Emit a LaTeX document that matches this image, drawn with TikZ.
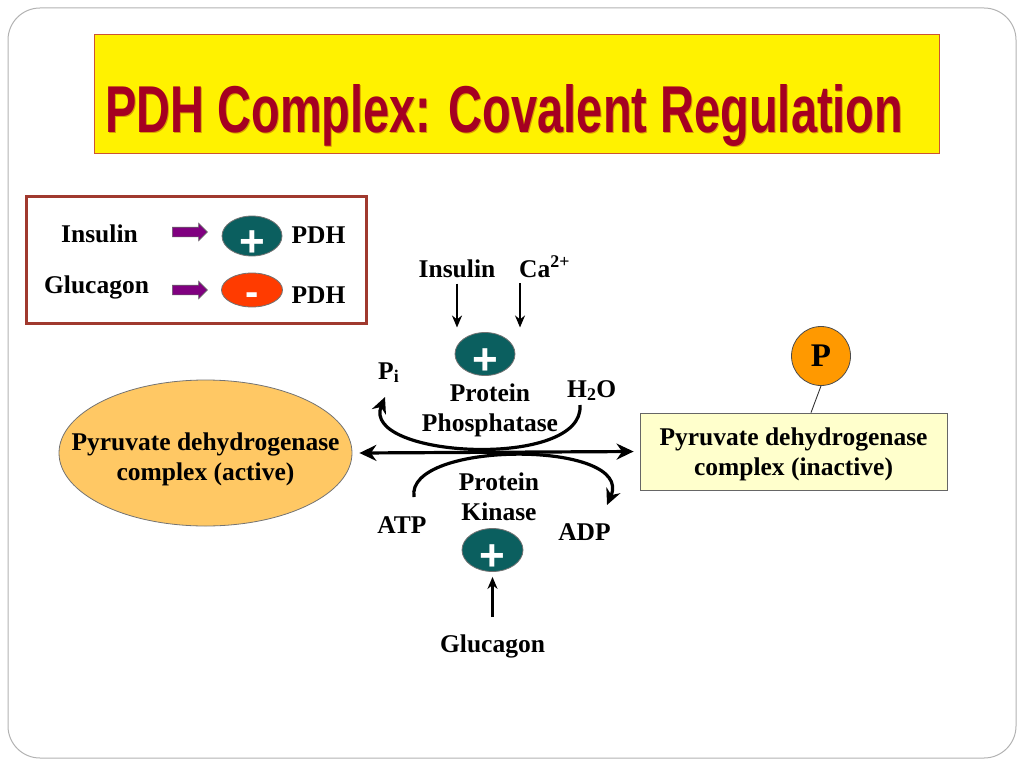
\documentclass[tikz,border=0pt]{standalone}
\usepackage{fontspec}
\setmainfont{Liberation Serif}
\newfontfamily\titlefont{Liberation Sans}
\usetikzlibrary{shapes.geometric,shapes.arrows,arrows.meta}
\definecolor{tealc}{HTML}{0B5F5F}
\definecolor{redc}{HTML}{FF3B00}
\definecolor{purplec}{HTML}{800080}
\definecolor{titlered}{HTML}{A50021}
\definecolor{titleshadow}{HTML}{D8A000}
\definecolor{titleborder}{HTML}{CC5533}
\definecolor{legred}{HTML}{A0392E}
\definecolor{actfill}{HTML}{FFC864}
\definecolor{inactfill}{HTML}{FFFFCC}
\definecolor{orangec}{HTML}{FF9900}
\begin{document}
\begin{tikzpicture}[x=1pt,y=-1pt,
  lbl/.style={font=\bfseries\fontsize{25.5}{30}\selectfont, inner sep=0pt, align=center},
  tealell/.style={ellipse, fill=tealc, draw=black!55, line width=0.8pt, inner sep=0pt},
  plustext/.style={text=white, font=\titlefont\bfseries\fontsize{44}{44}\selectfont, inner sep=0pt, anchor=base},
  parrow/.style={single arrow, fill=purplec, draw=black!60, line width=0.6pt, minimum height=35pt, inner xsep=0pt, inner ysep=4.5pt, single arrow head extend=4pt},
  thinarrow/.style={-{Stealth[length=12pt,width=10pt]}, line width=2.2pt},
  thickline/.style={line width=3.2pt},
  bigtip/.style={-{Stealth[length=16pt,width=15pt]}},
]
\useasboundingbox (0,0) rectangle (1024,768);
% outer frame
\draw[draw=gray!60, line width=1pt, rounded corners=32pt] (8,8) rectangle (1016,758);

% title
\node[draw=titleborder, line width=0.8pt, fill=yellow, minimum width=845pt, minimum height=119pt, inner sep=0pt, anchor=north west] (tbox) at (94,34) {};
\node[anchor=base west, inner sep=0pt, text=titleshadow] (tshadow) at (106,133) {\resizebox{798pt}{48pt}{\titlefont\bfseries PDH Complex: Covalent Regulation}};
\node[anchor=base west, inner sep=0pt, text=titlered] (title) at (105,132) {\resizebox{798pt}{48pt}{\titlefont\bfseries PDH Complex: Covalent Regulation}};

% legend
\node[draw=legred, line width=3pt, fill=white, minimum width=340pt, minimum height=127pt, inner sep=0pt] (legend) at (196.5,260) {};
\node[lbl, anchor=base] (lins) at (99.5,242) {Insulin};
\node[lbl, anchor=base] (lgluc) at (96.5,293) {Glucagon};
\node[parrow] (la1) at (187.5,232) {};
\node[parrow] (la2) at (187.5,290) {};
\node[tealell, minimum width=60pt, minimum height=40pt] (lplus) at (252,236) {};
\node[plustext] (lplust) at ([yshift=-20pt]lplus.center) {+};
\node[ellipse, fill=redc, draw=black!55, line width=0.8pt, inner sep=0pt, minimum width=61pt, minimum height=34pt] (lminus) at (252,290) {};
\node[text=white, font=\titlefont\bfseries\fontsize{40}{40}\selectfont, inner sep=0pt, anchor=base] (lminust) at ([yshift=-15pt]lminus.center) {-};
\node[lbl, anchor=base] (pdh1) at (318.5,243) {PDH};
\node[lbl, anchor=base] (pdh2) at (318.5,303) {PDH};

% phosphatase side
\node[lbl, anchor=base] (ins2) at (457,277) {Insulin};
\node[lbl, anchor=base west] (ca) at (519,277) {Ca\textsuperscript{2+}};
\node[tealell, minimum width=60pt, minimum height=43pt] (ppase) at (485,354) {};
\node[plustext] (ppaset) at ([yshift=-20pt]ppase.center) {+};
\draw[thinarrow] ([yshift=-6pt]ins2.south) -- ([yshift=-50pt]ins2.south);
\draw[thinarrow] ([xshift=1pt,yshift=-6pt]ca.south west) -- ([xshift=1pt,yshift=-50pt]ca.south west);
\node[lbl, anchor=base west] (pi) at (378,379) {P\textsubscript{i}};
\node[lbl] (pptext) at (490,410.3) {Protein\\Phosphatase};
\node[lbl, anchor=base west] (h2o) at (567,397) {H\textsubscript{2}O};

% main species
\node[ellipse, fill=actfill, draw=black!55, line width=0.8pt, minimum width=293pt, minimum height=146pt, inner sep=0pt] (act) at (205.5,453) {};
\node[lbl] (acttext) at (205.5,459.3) {Pyruvate dehydrogenase\\complex (active)};
\node[draw=black!60, line width=0.8pt, fill=inactfill, minimum width=307pt, minimum height=77pt, inner sep=0pt] (inact) at (793.5,451.5) {};
\node[lbl] (inacttext) at (793.5,454.3) {Pyruvate dehydrogenase\\complex (inactive)};
\node[circle, fill=orangec, draw=black!70, line width=0.8pt, minimum size=59pt, inner sep=0pt, font=\bfseries\fontsize{33}{33}\selectfont] (pc) at (821,356) {P};
\draw[line width=0.9pt, black!80] (pc.south) -- ([xshift=17.5pt]inact.north);

% main double arrow
\draw[thickline, {Stealth[length=17pt,width=16pt]}-{Stealth[length=17pt,width=16pt]}] ([xshift=7pt]act.east) -- ([xshift=-6pt]inact.west);

% arcs
\coordinate (tA) at (580,405);
\coordinate (tB) at (385,397);
\draw[thickline, bigtip] (tA) .. controls (585,470) and (360,458) .. (tB);
\coordinate (bA) at (414,497);
\coordinate (bB) at (607,505);
\draw[thickline, bigtip] (bA) .. controls (405,440) and (635,440) .. (bB);

% kinase side
\node[lbl] (pktext) at (499,496.5) {Protein\\Kinase};
\node[lbl, anchor=base] (atp) at (402,533) {ATP};
\node[lbl, anchor=base] (adp) at (584.5,540) {ADP};
\node[tealell, minimum width=61pt, minimum height=43pt] (pk) at (492.5,550) {};
\node[plustext] (pkt) at ([yshift=-20pt]pk.center) {+};
\node[lbl, anchor=base] (gluc2) at (492.5,652) {Glucagon};
\draw[thinarrow, shorten >=5pt] ([yshift=17pt]gluc2.north) -- (pk.south);
\end{tikzpicture}
\end{document}
